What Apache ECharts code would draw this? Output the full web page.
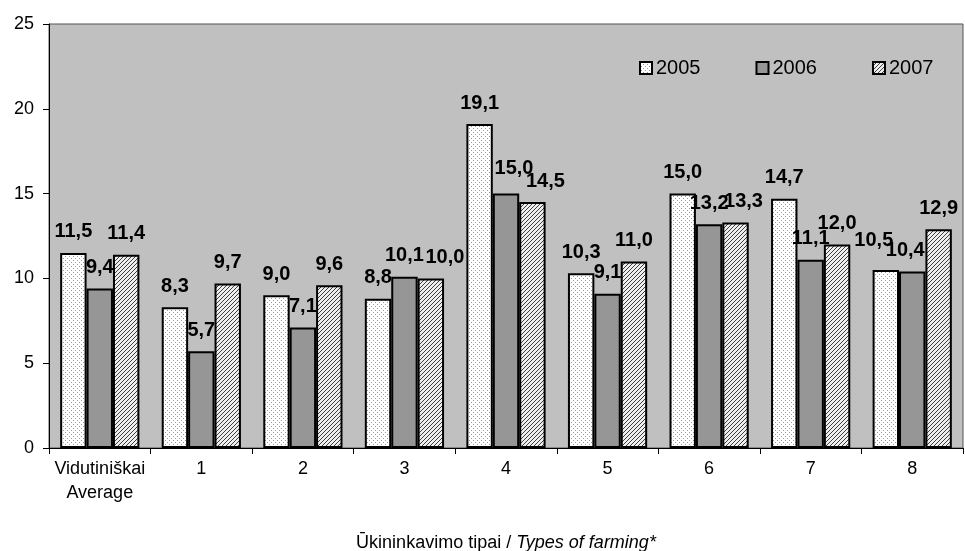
<!DOCTYPE html>
<html>
<head>
<meta charset="utf-8">
<script src="https://cdn.jsdelivr.net/npm/echarts@6/dist/echarts.min.js"></script>
<style>
  html, body { margin: 0; padding: 0; background: #fff; }
  #chart { width: 965px; height: 551px; }
</style>
</head>
<body>
<div id="chart"></div>
<script>
// duomenys
const categories = ['Vidutiniškai\nAverage', '1', '2', '3', '4', '5', '6', '7', '8'];
const years = ['2005', '2006', '2007'];
const values2005 = [11.5, 8.3, 9.0, 8.8, 19.1, 10.3, 15.0, 14.7, 10.5];
const values2006 = [9.4, 5.7, 7.1, 10.1, 15.0, 9.1, 13.2, 11.1, 10.4];
const values2007 = [11.4, 9.7, 9.6, 10.0, 14.5, 11.0, 13.3, 12.0, 12.9];
const yTicks = [0, 5, 10, 15, 20, 25];

const FONT = "'Liberation Sans', Arial, sans-serif";

// etikečių pastūmimai (kaip Excel'yje, kad nesiliestų)
const labelShift = {
  '1-4': [8, -4], '2-3': [14, 0], '2-4': [13, 0], '2-6': [8, 0],
  '0-8': [-12, -8], '1-8': [-7, 0]
};

// raštai stulpeliams
function dotPattern() {
  const c = document.createElement('canvas');
  c.width = 4; c.height = 4;
  const ctx = c.getContext('2d');
  ctx.fillStyle = '#fff';
  ctx.fillRect(0, 0, 4, 4);
  ctx.fillStyle = '#9a9a9a';
  ctx.fillRect(1, 0, 1, 1);
  ctx.fillRect(3, 2, 1, 1);
  return c;
}
function hatchPattern() {
  const c = document.createElement('canvas');
  c.width = 4; c.height = 4;
  const ctx = c.getContext('2d');
  ctx.fillStyle = '#eeeeee';
  ctx.fillRect(0, 0, 4, 4);
  ctx.fillStyle = '#404040';
  for (let i = 0; i < 4; i++) ctx.fillRect(3 - i, i, 1, 1);
  return c;
}

const fills = [
  { image: dotPattern(), repeat: 'repeat' },
  '#969696',
  { image: hatchPattern(), repeat: 'repeat' }
];
const seriesData = [values2005, values2006, values2007];

const chart = echarts.init(document.getElementById('chart'));

const option = {
  animation: false,
  textStyle: { fontFamily: FONT },
  grid: {
    left: 49, right: 2, top: 24, bottom: 103,
    outerBoundsMode: 'none',
    containLabel: false,
    show: true,
    backgroundColor: '#c0c0c0',
    borderColor: '#555',
    borderWidth: 1
  },
  legend: {
    left: 634, top: 53,
    icon: 'rect',
    itemWidth: 12, itemHeight: 12,
    itemGap: 55,
    data: years,
    itemStyle: { borderColor: '#000', borderWidth: 2 },
    textStyle: { fontFamily: FONT, fontSize: 20, color: '#000', padding: [0, 0, 0, -1] }
  },
  xAxis: {
    type: 'category',
    data: categories,
    axisLine: { lineStyle: { color: '#000', width: 1 } },
    axisTick: { show: true, interval: 0, length: 6, lineStyle: { color: '#000' } },
    axisLabel: { interval: 0, color: '#000', fontSize: 18, fontFamily: FONT, margin: 9, lineHeight: 24 },
    name: 'Ūkininkavimo tipai / {i|Types of farming*}',
    nameLocation: 'middle',
    nameGap: 86,
    nameTextStyle: {
      color: '#000', fontSize: 18, fontFamily: FONT,
      rich: { i: { fontStyle: 'italic', fontSize: 18, fontFamily: FONT, color: '#000' } }
    }
  },
  yAxis: {
    type: 'value',
    min: yTicks[0], max: yTicks[yTicks.length - 1], interval: 5,
    splitLine: { show: false },
    axisLine: { show: true, lineStyle: { color: '#000' } },
    axisTick: { show: true, length: 6, lineStyle: { color: '#000' } },
    axisLabel: { color: '#000', fontSize: 18, fontFamily: FONT, margin: 15 }
  },
  series: years.map((y, i) => ({
    name: y,
    type: 'bar',
    data: seriesData[i].map((v, j) => {
      const s = labelShift[i + '-' + j];
      return s ? { value: v, label: { offset: s } } : v;
    }),
    barGap: '0%',
    barCategoryGap: '22%',
    itemStyle: { color: fills[i], borderColor: '#000', borderWidth: 2 },
    label: {
      show: true,
      position: 'top',
      distance: 11,
      color: '#000',
      fontSize: 20,
      fontWeight: 'bold',
      fontFamily: FONT,
      formatter: p => p.value.toFixed(1).replace('.', ',')
    }
  }))
};

chart.setOption(option);
</script>
</body>
</html>
